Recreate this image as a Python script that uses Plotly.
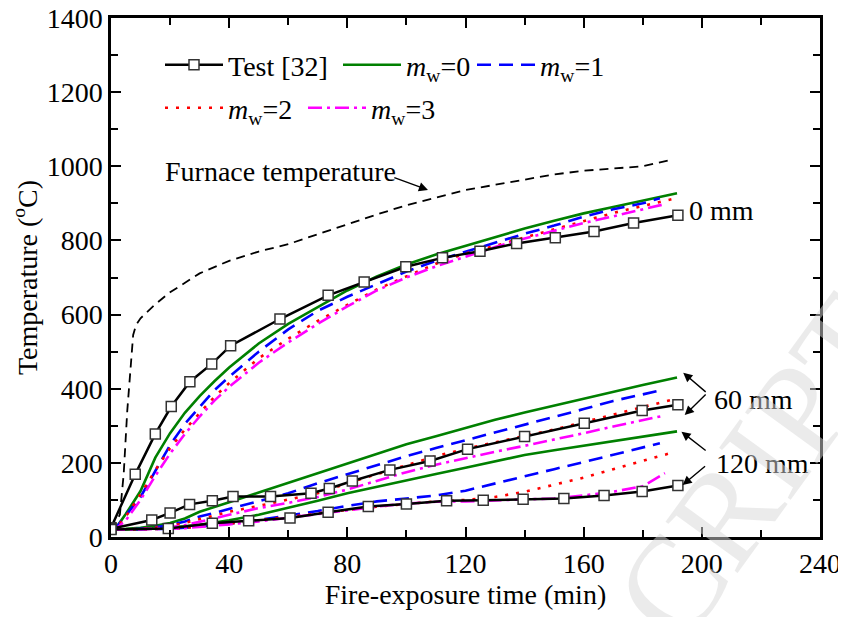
import plotly.graph_objects as go

# ---------------- data ----------------
# Furnace temperature
t_furnace = [0, 3, 4.3, 5.5, 7.5, 8.5, 10, 15, 20, 30, 40, 50, 60, 70, 80, 90, 100, 110, 120, 130, 140, 150, 160, 170, 180, 190]
T_furnace = [20, 60, 170, 340, 545, 572, 590, 628, 660, 711, 745, 770, 790, 817, 845, 870, 895, 915, 936, 950, 965, 978, 988, 993, 1000, 1018]

# Test [32]
t_test_0 = [0, 8.2, 15, 20.4, 26.7, 34.1, 40.5, 57.2, 73.5, 85.7, 99.8, 112.2, 124.9, 137.3, 150.4, 163.5, 176.9, 191.9]
T_test_0 = [25, 169, 278, 352, 419, 467, 516, 588, 652, 688, 729, 753, 771, 792, 807, 824, 847, 868]
t_test_60 = [0, 13.8, 20, 26.6, 34.3, 41.3, 54, 67.7, 73.9, 81.7, 94.4, 108, 120.7, 140, 160.2, 179.8, 191.9]
T_test_60 = [22, 46, 65, 88, 98, 109, 109, 118, 131, 151, 181, 205, 237, 271, 307, 341, 357]
t_test_120 = [0, 19.4, 34.3, 46.6, 60.6, 73.5, 87.1, 100, 113.6, 126, 139.5, 153.3, 166.9, 179.8, 191.9]
T_test_120 = [20, 23, 37, 44, 51, 67, 82, 89, 98, 99, 102, 104, 112, 123, 139]

# Simulation time bases
t_sim = [0, 2, 5, 10, 15, 20, 25, 30, 35, 40, 50, 60, 70, 80, 90, 100, 110, 120, 130, 140, 150, 160, 170, 180]
t_end_w0 = 191.6
t_end_w1 = 185.8
t_end_w2 = 189.7
t_end_w3 = 187.5

# m_w = 0 (green)
T_w0_0 = [20, 28, 62, 124, 214, 280, 335, 380, 420, 457, 522, 575, 620, 665, 703, 735, 762, 785, 810, 832, 853, 873, 890, 907, 927]
T_w0_60 = [20, 20, 22, 25, 30, 38, 50, 68, 80, 94, 120, 146, 174, 200, 226, 250, 272, 295, 316, 336, 355, 373, 392, 410, 430]
T_w0_120 = [20, 20, 20, 21, 23, 25, 29, 33, 39, 45, 60, 78, 98, 118, 136, 154, 170, 187, 205, 221, 234, 246, 259, 271, 285]
# m_w = 1 (blue)
T_w1_0 = [20, 28, 58, 108, 178, 248, 305, 352, 396, 432, 500, 560, 610, 648, 683, 716, 745, 770, 795, 818, 840, 864, 884, 900, 914]
T_w1_60 = [20, 20, 21, 22, 26, 32, 42, 55, 65, 76, 96, 118, 145, 170, 195, 218, 240, 261, 282, 302, 322, 345, 367, 385, 395]
T_w1_120 = [20, 20, 20, 20, 21, 22, 25, 28, 32, 36, 46, 57, 70, 84, 96, 104, 112, 125, 145, 165, 183, 202, 222, 242, 253]
# m_w = 2 (red)
T_w2_0 = [20, 26, 55, 115, 180, 240, 290, 335, 378, 415, 482, 535, 583, 626, 668, 703, 737, 765, 785, 808, 830, 853, 874, 893, 911]
T_w2_60 = [20, 20, 20, 22, 25, 30, 38, 48, 58, 68, 84, 100, 118, 145, 170, 195, 218, 238, 255, 272, 290, 310, 330, 350, 370]
T_w2_120 = [20, 20, 20, 20, 21, 22, 25, 28, 32, 36, 45, 55, 64, 73, 82, 90, 96, 100, 108, 122, 140, 160, 183, 205, 227]
# m_w = 3 (magenta)
T_w3_0 = [20, 24, 45, 100, 165, 225, 278, 325, 368, 405, 470, 525, 575, 622, 665, 700, 730, 757, 782, 805, 827, 847, 865, 884, 898]
T_w3_60 = [20, 20, 20, 21, 23, 26, 32, 40, 50, 60, 78, 92, 108, 128, 152, 175, 195, 213, 230, 246, 262, 280, 298, 316, 328]
T_w3_120 = [20, 20, 20, 20, 21, 22, 24, 27, 30, 34, 42, 52, 62, 72, 82, 90, 95, 96, 98, 101, 104, 112, 122, 137, 172]

legend_names = ["Test [32]", "<i>m</i><sub>w</sub>=0", "<i>m</i><sub>w</sub>=1",
                "<i>m</i><sub>w</sub>=2", "<i>m</i><sub>w</sub>=3"]

x_ticks = [0, 40, 80, 120, 160, 200, 240]
y_ticks = [0, 200, 400, 600, 800, 1000, 1200, 1400]

# ---------------- figure ----------------
FONT = "Liberation Serif"
FS = 28
OFF = 8  # page body margin of the browser
FIG_W, FIG_H = 846 - OFF, 617 - OFF
L, R_EDGE, T_EDGE, B = 111, 820, 18, 537   # plot area in window pixels
W, H = R_EDGE - L, B - T_EDGE

def px2paper(px, py):
    return (px - L) / W, (B - py) / H

fig = go.Figure()

fig.add_trace(go.Scatter(x=t_furnace, y=T_furnace, mode="lines", showlegend=False,
                         line=dict(color="black", width=1.8, dash="9px,6px")))

sims = [
    (t_end_w0, [T_w0_0, T_w0_60, T_w0_120], "#008000", "solid", 1),
    (t_end_w1, [T_w1_0, T_w1_60, T_w1_120], "#0000ff", "14px,8px", 2),
    (t_end_w2, [T_w2_0, T_w2_60, T_w2_120], "#ff0000", "3px,8px", 3),
    (t_end_w3, [T_w3_0, T_w3_60, T_w3_120], "#ff00ff", "14px,5px,3px,5px", 4),
]
for t_end, series, col, dash, idx in sims:
    tt = t_sim + [t_end]
    for k, yy in enumerate(series):
        fig.add_trace(go.Scatter(
            x=tt, y=yy, mode="lines", name=legend_names[idx],
            showlegend=(k == 0), legend=f"legend{idx+1}",
            line=dict(color=col, width=2.6, dash=dash)))

for k, (tt, yy) in enumerate([(t_test_0, T_test_0), (t_test_60, T_test_60), (t_test_120, T_test_120)]):
    fig.add_trace(go.Scatter(
        x=tt, y=yy, mode="lines+markers", name=legend_names[0],
        showlegend=(k == 0), legend="legend",
        line=dict(color="black", width=2.5),
        marker=dict(symbol="square", size=10, color="white",
                    line=dict(color="#333333", width=1.5))))

# legends: one per entry so each can be placed like the original
def leg(px, py):
    xp, yp = px2paper(px, py)
    return dict(x=xp, y=yp, xanchor="left", yanchor="middle", orientation="h",
                bgcolor="rgba(0,0,0,0)", font=dict(family=FONT, size=FS, color="black"),
                itemwidth=58)

fig.update_layout(
    legend=leg(160, 65),
    legend2=leg(338, 65),
    legend3=leg(472, 65),
    legend4=leg(160, 108),
    legend5=leg(303, 108),
)

axis_common = dict(showline=True, linewidth=2.5, linecolor="black", mirror="ticks",
                   ticks="inside", ticklen=10, tickwidth=1.8, tickcolor="black",
                   showgrid=False, zeroline=False, automargin=False,
                   ticklabeloverflow="allow",
                   tickfont=dict(family=FONT, size=FS, color="black"))

fig.update_xaxes(range=[0, 240], tickvals=x_ticks,
                 minor=dict(dtick=20, ticks="inside", ticklen=7, tickwidth=1.8, tickcolor="black"),
                 title=dict(text="Fire-exposure time (min)", font=dict(family=FONT, size=FS, color="black"), standoff=4),
                 **axis_common)
fig.update_yaxes(range=[0, 1400], tickvals=y_ticks,
                 minor=dict(dtick=100, ticks="inside", ticklen=7, tickwidth=1.8, tickcolor="black"),
                 title=dict(text="Temperature (<sup>o</sup>C)", font=dict(family=FONT, size=FS, color="black"), standoff=2),
                 **axis_common)

afont = dict(family=FONT, size=FS, color="black")
arrow_style = dict(showarrow=True, arrowhead=2, arrowsize=1.3, arrowwidth=1.4, arrowcolor="black",
                   axref="x", ayref="y", text="")
# arrows (head x,y ; tail ax,ay)
for hx, hy, tx, ty in [(107.3, 936, 95.4, 971),
                       (193.7, 443, 201.8, 388), (194.2, 329, 201.8, 388),
                       (193.1, 284, 201.8, 230), (193.5, 140, 201.6, 194)]:
    fig.add_annotation(x=hx, y=hy, ax=tx, ay=ty, **arrow_style)

fig.add_annotation(x=57.5, y=985, text="Furnace temperature", showarrow=False, font=afont,
                   xanchor="center", yanchor="middle")
fig.add_annotation(x=195.0, y=882, text="0 mm", showarrow=False, font=afont, xanchor="left", yanchor="middle")
fig.add_annotation(x=203.3, y=371, text="60 mm", showarrow=False, font=afont, xanchor="left", yanchor="middle")
fig.add_annotation(x=204.0, y=199, text="120 mm", showarrow=False, font=afont, xanchor="left", yanchor="middle")

wx, wy = px2paper(757, 468)
fig.add_annotation(xref="paper", yref="paper", x=wx, y=wy, text="CRIPT", showarrow=False,
                   xanchor="center", yanchor="middle", textangle=-54,
                   font=dict(family=FONT, size=135, color="rgba(215,215,215,0.5)"))

fig.update_layout(width=FIG_W, height=FIG_H,
                  margin=dict(l=L - OFF, r=846 - R_EDGE, t=T_EDGE - OFF, b=617 - B),
                  plot_bgcolor="white", paper_bgcolor="white",
                  font=dict(family=FONT, size=FS, color="black"))

fig.write_html("out.html")
